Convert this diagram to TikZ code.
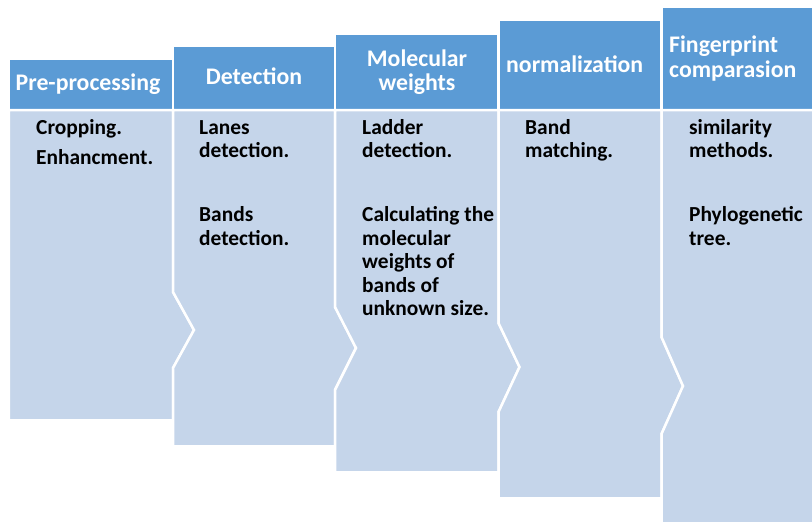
\documentclass[tikz,border=0pt]{standalone}
\usepackage{fontspec}
\setmainfont{Carlito}
\definecolor{hdr}{HTML}{5B9BD5}
\definecolor{bdy}{HTML}{C5D5EA}
\tikzset{
  hbox/.style={fill=hdr,draw=white,line width=2.5pt},
  bbox/.style={fill=bdy,draw=white,line width=2.5pt,line join=miter},
  htxt/.style={text=white,font=\bfseries\fontsize{23.8}{25}\selectfont,inner sep=0pt},
  btxt/.style={text=black,font=\bfseries\fontsize{21.4}{23.5}\selectfont,inner sep=0pt,anchor=base west}
}
\begin{document}
\begin{tikzpicture}[x=1pt,y=-1pt]
\useasboundingbox (0,0) rectangle (812,522);
% headers
\draw[hbox] (8.75,58.75) rectangle (173,110);
\draw[hbox] (173,45.75) rectangle (335,110);
\draw[hbox] (335,33.75) rectangle (498.5,110);
\draw[hbox] (498.5,19.75) rectangle (661.5,110);
\draw[hbox] (661.5,6.75) rectangle (815,110);
% bodies
\draw[bbox] (8.75,110) -- (173,110) -- (173,292) -- (194,330) -- (173,368) -- (173,420.25) -- (8.75,420.25) -- cycle;
\draw[bbox] (173,110) -- (335,110) -- (335,307) -- (356,348) -- (335,390) -- (335,446.25) -- (173,446.25) -- (173,368) -- (194,330) -- (173,292) -- cycle;
\draw[bbox] (335,110) -- (498.5,110) -- (498.5,323) -- (519.5,367) -- (498.5,412) -- (498.5,472.25) -- (335,472.25) -- (335,390) -- (356,348) -- (335,307) -- cycle;
\draw[bbox] (498.5,110) -- (661.5,110) -- (661.5,337) -- (683,386) -- (661.5,434) -- (661.5,498.25) -- (498.5,498.25) -- (498.5,412) -- (519.5,367) -- (498.5,323) -- cycle;
\draw[bbox] (661.5,110) -- (815,110) -- (815,525) -- (661.5,525) -- (661.5,434) -- (683,386) -- (661.5,337) -- cycle;
% header texts
\node[htxt,anchor=base] (h1) at (88,90) {Pre-processing};
\node[htxt,anchor=base] (h2) at (254,84) {Detection};
\node[htxt,anchor=base] (h3a) at (417,66) {Molecular};
\node[htxt,anchor=base] (h3b) at (417,90) {weights};
\node[htxt,anchor=base west] (h4) at (506,72) {normalization};
\node[htxt,anchor=base west] (h5a) at (669,52) {Fingerprint};
\node[htxt,anchor=base west] (h5b) at (669,77) {comparasion};
% body texts
\node[btxt] (a1) at (36,134) {Cropping.};
\node[btxt] (a2) at (36,164) {Enhancment.};
\node[btxt] (b1) at (199,134) {Lanes};
\node[btxt] (b2) at (199,157.5) {detection.};
\node[btxt] (b3) at (199,221.5) {Bands};
\node[btxt] (b4) at (199,245) {detection.};
\node[btxt] (c1) at (362,134) {Ladder};
\node[btxt] (c2) at (362,157.5) {detection.};
\node[btxt] (c3) at (362,221.5) {Calculating the};
\node[btxt] (c4) at (362,245) {molecular};
\node[btxt] (c5) at (362,268.5) {weights of};
\node[btxt] (c6) at (362,292) {bands of};
\node[btxt] (c7) at (362,315.5) {unknown size.};
\node[btxt] (d1) at (525,134) {Band};
\node[btxt] (d2) at (525,157.5) {matching.};
\node[btxt] (e1) at (689,134) {similarity};
\node[btxt] (e2) at (689,157.5) {methods.};
\node[btxt] (e3) at (689,221.5) {Phylogenetic};
\node[btxt] (e4) at (689,245) {tree.};
\end{tikzpicture}
\end{document}
